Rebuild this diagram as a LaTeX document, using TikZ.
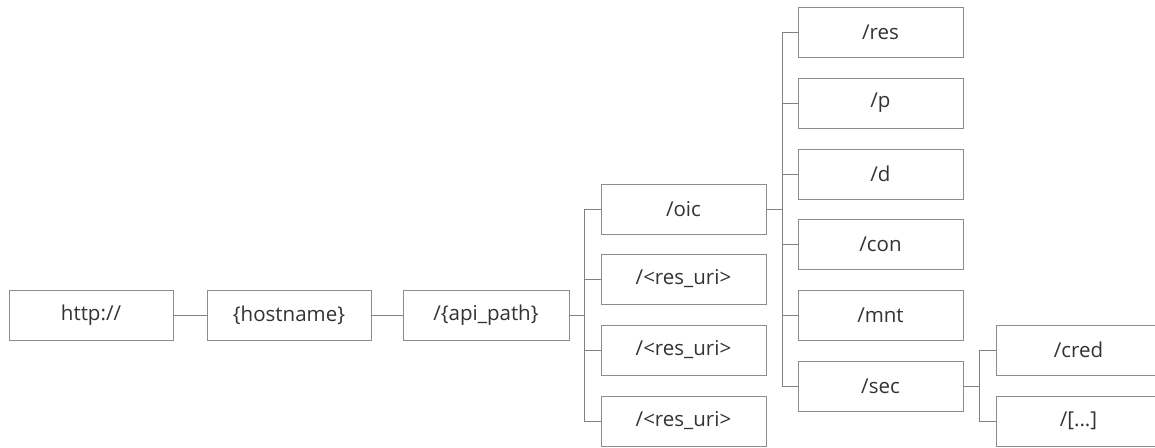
\documentclass[tikz,border=0pt]{standalone}
\usepackage{fontspec}
\setmainfont{Open Sans}
\begin{document}
\begin{tikzpicture}[x=1pt,y=-1pt,
  urlbox/.style={draw=black!45,line width=0.9pt,fill=white,rectangle,minimum width=165pt,minimum height=50pt,inner sep=0pt,font=\fontsize{20.5}{24}\selectfont,text=black!80},
  link/.style={draw=black!50,line width=0.9pt}]
\useasboundingbox (0,0) rectangle (1155,447);
\clip (0,0) rectangle (1155,447);
\fill[white] (0,0) rectangle (1155,447);
% nodes
\node[urlbox,minimum width=164pt] (http) at (91,315) {http://};
\node[urlbox,minimum width=164pt] (host) at (289,315) {\{hostname\}};
\node[urlbox,minimum width=166pt] (api) at (486,315) {/\{api\_path\}};
\node[urlbox] (oic) at (683.5,209) {/oic};
\node[urlbox] (ra) at (683.5,279) {/<res\_uri>};
\node[urlbox] (rb) at (683.5,350) {/<res\_uri>};
\node[urlbox] (rc) at (683.5,421) {/<res\_uri>};
\node[urlbox] (res) at (880.5,32) {/res};
\node[urlbox] (p) at (880.5,103) {/p};
\node[urlbox] (d) at (880.5,174) {/d};
\node[urlbox] (con) at (880.5,244) {/con};
\node[urlbox] (mnt) at (880.5,315) {/mnt};
\node[urlbox] (sec) at (880.5,386) {/sec};
\node[urlbox] (cred) at (1078.5,350) {/cred};
\node[urlbox] (etc) at (1078.5,421) {/[...]};
% bus points
\coordinate (b1) at (584,315);
\coordinate (b2) at (782,209);
\coordinate (b3) at (979,386);
% connectors
\draw[link] (http) -- (host);
\draw[link] (host) -- (api);
\draw[link] (api.east) -- (b1);
\draw[link] (b1) |- (oic.west);
\draw[link] (b1) |- (ra.west);
\draw[link] (b1) |- (rb.west);
\draw[link] (b1) |- (rc.west);
\draw[link] (oic.east) -- (b2);
\foreach \n in {res,p,d,con,mnt,sec} \draw[link] (b2) |- (\n.west);
\draw[link] (sec.east) -- (b3);
\draw[link] (b3) |- (cred.west);
\draw[link] (b3) |- (etc.west);
\end{tikzpicture}
\end{document}
